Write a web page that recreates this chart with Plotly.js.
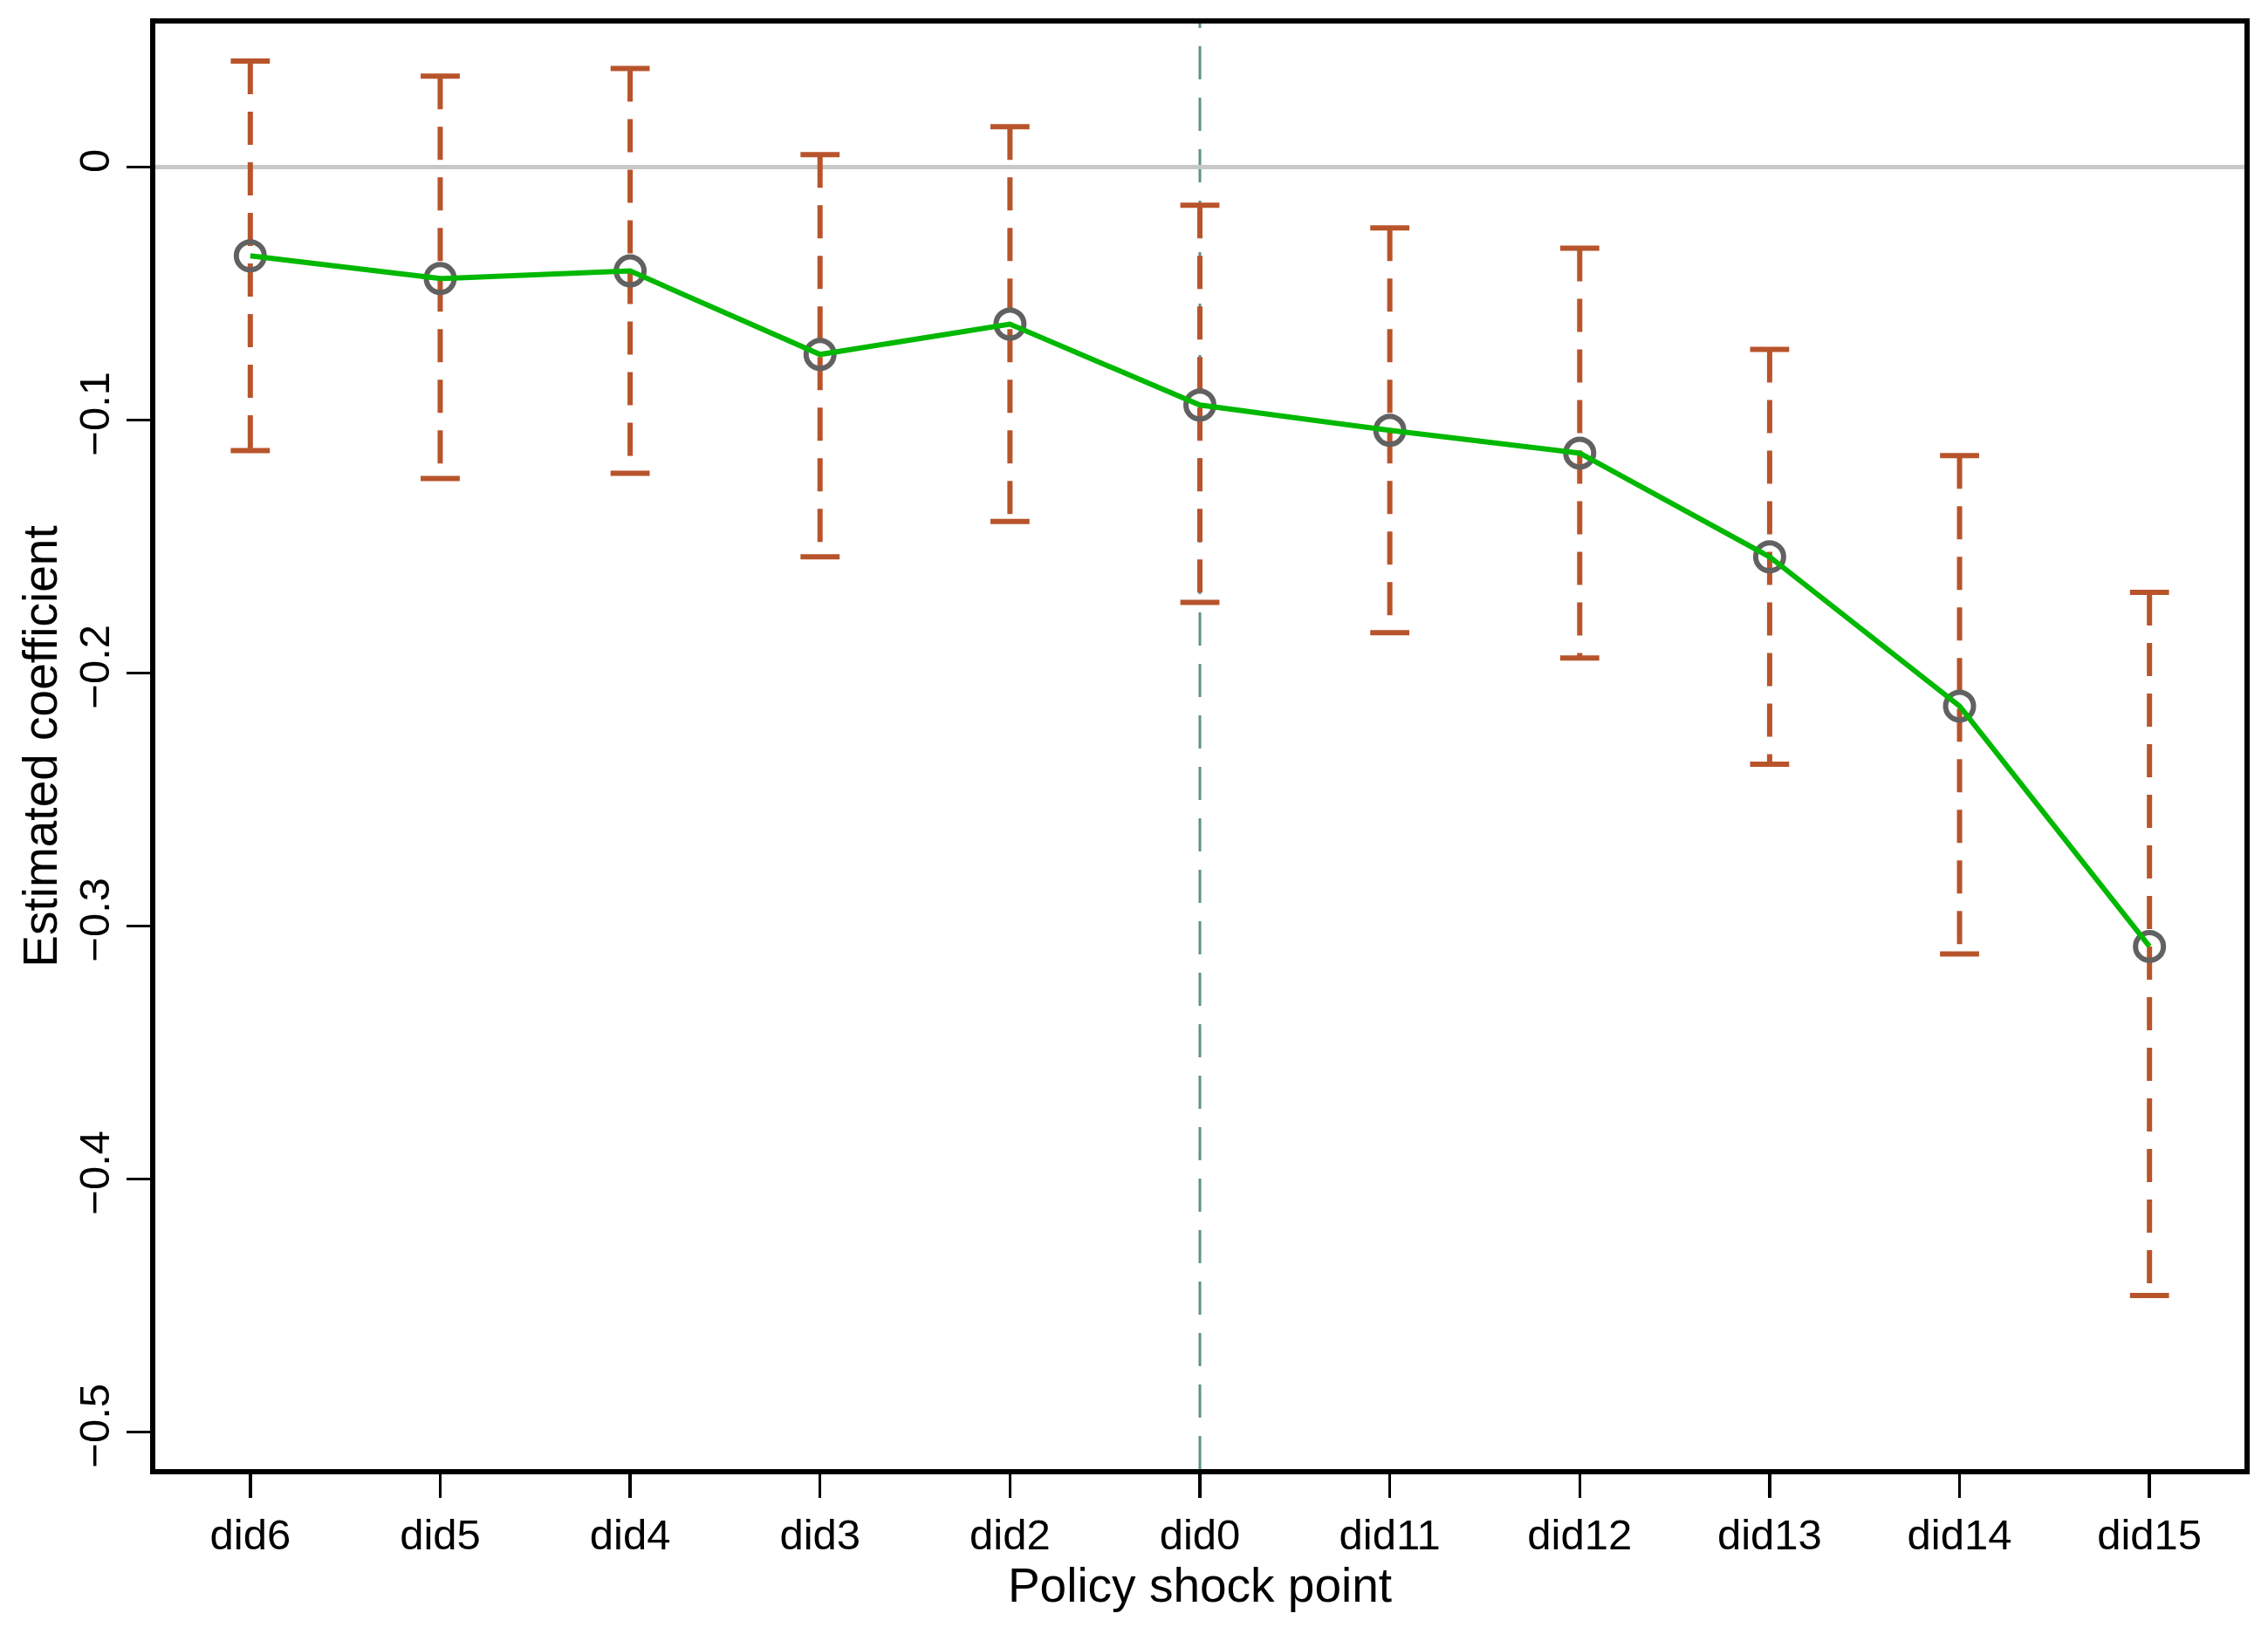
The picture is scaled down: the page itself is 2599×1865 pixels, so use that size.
<!DOCTYPE html>
<html>
<head>
<meta charset="utf-8">
<script src="https://cdn.plot.ly/plotly-3.0.1.min.js"></script>
<style>
  html, body { margin: 0; padding: 0; background: #ffffff; }
  #chart { width: 2599px; height: 1865px; }
</style>
</head>
<body>
<div id="chart"></div>
<script>
// ---- Data ----
const categories = ['did6', 'did5', 'did4', 'did3', 'did2', 'did0', 'did11', 'did12', 'did13', 'did14', 'did15'];
const coef  = [-0.035, -0.044, -0.041, -0.074, -0.062, -0.094, -0.104, -0.113, -0.154, -0.213, -0.308];
const upper = [ 0.042,  0.036,  0.039,  0.005,  0.016, -0.015, -0.024, -0.032, -0.072, -0.114, -0.168];
const lower = [-0.112, -0.123, -0.121, -0.154, -0.140, -0.172, -0.184, -0.194, -0.236, -0.311, -0.446];
const yTickValues = [0, -0.1, -0.2, -0.3, -0.4, -0.5];
const shockPoint = 'did0';
const xTitle = 'Policy shock point';
const yTitle = 'Estimated coefficient';

// ---- Build traces ----
const barX = [], barY = [];
categories.forEach((c, i) => {
  barX.push(c, c, null);
  barY.push(upper[i], lower[i], null);
});
const capX = categories.concat(categories);
const capY = upper.concat(lower);

const ciColor = '#b8542b';
const fontFamily = '"Liberation Sans", Arial, Helvetica, sans-serif';

const traces = [
  {
    type: 'scatter', mode: 'lines', x: barX, y: barY,
    connectgaps: false, hoverinfo: 'skip', showlegend: false,
    line: { color: ciColor, width: 6, dash: '38px,20px' }
  },
  {
    type: 'scatter', mode: 'markers', x: capX, y: capY,
    hoverinfo: 'skip', showlegend: false,
    marker: { symbol: 'line-ew', size: 32, color: ciColor, line: { color: ciColor, width: 6 } }
  },
  {
    type: 'scatter', mode: 'markers', x: categories, y: coef,
    showlegend: false,
    marker: { symbol: 'circle-open', size: 32, color: '#616161', line: { color: '#616161', width: 6 } }
  },
  {
    type: 'scatter', mode: 'lines', x: categories, y: coef,
    showlegend: false,
    line: { color: '#00b800', width: 6 }
  }
];

const shockIndex = categories.indexOf(shockPoint);

const layout = {
  width: 2599, height: 1865,
  paper_bgcolor: '#ffffff', plot_bgcolor: '#ffffff',
  margin: { l: 178, r: 27, t: 27, b: 181, pad: 0 },
  font: { family: fontFamily, color: '#000000' },
  showlegend: false,
  xaxis: {
    type: 'category',
    range: [-0.5, categories.length - 0.5],
    showgrid: false, zeroline: false,
    showline: true, mirror: true, linecolor: '#000000', linewidth: 6,
    ticks: 'outside', ticklen: 27, tickwidth: 3.5, tickcolor: '#000000',
    tickfont: { size: 49, family: fontFamily, color: '#000000' },
    title: { text: xTitle, font: { size: 55, family: fontFamily, color: '#000000' }, standoff: 0 }
  },
  yaxis: {
    range: [-0.5146, 0.0568],
    tickvals: yTickValues,
    tickangle: -90,
    showgrid: false,
    zeroline: true, zerolinecolor: '#c8c8c8', zerolinewidth: 5,
    showline: true, mirror: true, linecolor: '#000000', linewidth: 6,
    ticks: 'outside', ticklen: 27, tickwidth: 3.5, tickcolor: '#000000',
    tickfont: { size: 49, family: fontFamily, color: '#000000' },
    title: { text: yTitle, font: { size: 55, family: fontFamily, color: '#000000' }, standoff: 0 }
  },
  shapes: [
    {
      type: 'line', layer: 'between',
      xref: 'x', yref: 'paper',
      x0: shockIndex, x1: shockIndex, y0: 0, y1: 1,
      line: { color: '#5f9189', width: 3, dash: '38px,21px' }
    }
  ]
};

Plotly.newPlot('chart', traces, layout, { displayModeBar: false, staticPlot: true });
</script>
</body>
</html>
